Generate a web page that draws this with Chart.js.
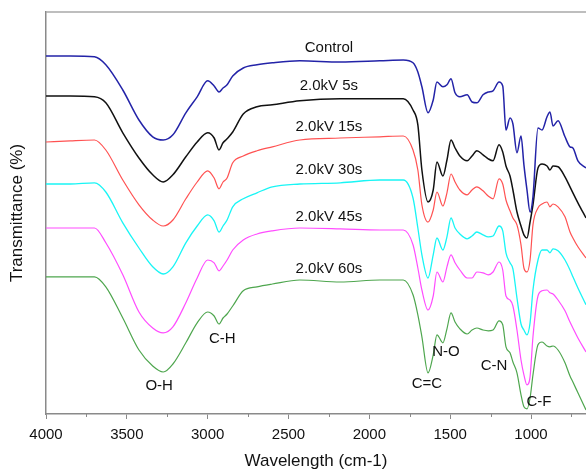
<!DOCTYPE html>
<html>
<head>
<meta charset="utf-8">
<script src="https://cdn.jsdelivr.net/npm/chart.js@4"></script>
<style>
    body { margin: 0; background: #fff; }
    #chartContainer { width: 586px; height: 474px; }
</style>
</head>
<body>
<div id="chartContainer"><canvas id="ftirChart"></canvas></div>
<script>
// wavenumbers (cm-1) shared by every spectrum
const wavenumbers = [4000, 3850, 3700, 3630, 3525, 3425, 3340, 3275, 3215, 3135, 3065, 3000, 2960, 2930, 2905, 2880, 2845, 2780, 2695, 2600, 2430, 2180, 1935, 1790, 1730, 1700, 1675, 1637, 1605, 1582, 1545, 1520, 1495, 1470, 1440, 1395, 1365, 1335, 1297, 1265, 1235, 1198, 1175, 1155, 1130, 1112, 1087, 1062, 1044, 1025, 1006, 988, 957, 932, 901, 883, 864, 833, 790, 759, 741, 710, 660];

// stacked transmittance, arbitrary offset per spectrum
const control = [89.5, 89.5, 89.3, 87.3, 81, 73.5, 69.3, 68.5, 69.8, 75.3, 79.3, 83.3, 82, 80.5, 81.5, 82.3, 84.5, 86.5, 87.3, 87.8, 88.3, 88, 88.3, 88.5, 87.8, 85.5, 81.8, 75.3, 78.5, 83, 81.8, 82.3, 83.8, 80.3, 79.3, 79.8, 78, 77.8, 79.8, 80.5, 80.8, 83, 82, 71, 74, 72.5, 65.3, 69.5, 62.3, 56, 50.5, 54.3, 71.5, 71, 74.3, 75.5, 72, 73.3, 69.3, 66.8, 66.5, 63.3, 61.5];
const kv5s = [79.5, 79.5, 79.3, 77.8, 70.3, 64, 59.8, 58, 59.8, 64.3, 68, 70.3, 69, 66, 67.8, 68.8, 70.5, 75, 76.8, 77.3, 78.3, 78.8, 78.8, 78.8, 76, 72.3, 61, 53, 56, 63, 59.5, 63.5, 68.5, 66.5, 64.5, 63.3, 64.5, 65.8, 64.8, 63.8, 63.3, 67.3, 65.5, 62, 59.5, 56, 50.5, 47, 44.8, 44, 48, 52.3, 61.5, 62.5, 62, 61, 62, 61.8, 59.3, 56.8, 55.3, 52.8, 49];
const kv15s = [68, 68.3, 68.5, 66, 58.5, 52.3, 48.5, 47, 48.5, 53.8, 58, 60.8, 59, 56.3, 58, 59, 62.8, 64.5, 65.8, 66.8, 68.5, 69, 69.3, 69.5, 66, 61, 52.3, 48, 51, 55.5, 52, 55.3, 60, 58, 56, 54.8, 56, 56.8, 55.8, 54.5, 53.8, 58.8, 57.5, 53.5, 50.8, 49, 47.3, 42.3, 36.5, 35.5, 38.5, 47.3, 51.5, 52.5, 53, 51.8, 52.5, 51.8, 49.3, 45.5, 44, 41.8, 39];
const kv30s = [57.5, 57.5, 57.8, 55.5, 47.8, 41.5, 36.8, 35, 36.8, 42.8, 47, 49.8, 48.3, 45.5, 47, 48.5, 51.8, 53.8, 55.3, 56.8, 57.5, 57.8, 58.5, 58.5, 54, 46.5, 39.8, 34, 39.8, 44, 41, 44.3, 49, 46.5, 45, 43.8, 44.5, 45.5, 44.8, 44.3, 44.5, 47, 45.8, 40.3, 37.8, 36.3, 29, 22.5, 21, 19.8, 22.8, 31, 38.5, 41, 41, 40.3, 41.3, 40.8, 38.5, 36, 34.3, 31.5, 27.3];
const kv45s = [46.5, 46.5, 46.5, 42.8, 34.8, 25.5, 21.5, 20.3, 21.8, 27.8, 34, 38.5, 37.8, 35.8, 37, 38.5, 41, 43.5, 45, 45.8, 46.5, 46.3, 46, 46, 42.3, 36.5, 31, 26, 29.5, 35.5, 33, 36.8, 39.8, 37.8, 36, 34, 34, 35.5, 35.3, 34.8, 35.5, 38, 36, 29.5, 28.5, 27, 21, 13.5, 9.8, 7.3, 9.3, 19.3, 29.5, 30.8, 31, 30.3, 30, 28.5, 25.8, 23, 21.5, 19, 15.5];
const kv60s = [34.3, 34.3, 34.3, 31.8, 24, 16, 12, 10.5, 12.5, 17.8, 22.8, 25.5, 24.5, 22.5, 24, 25, 27, 30.8, 31.8, 32.5, 33.5, 33, 33.5, 33.5, 29.8, 24.8, 19.3, 10.3, 14.8, 19.8, 17.8, 21.3, 25.3, 23, 21.3, 20, 21, 21.5, 21, 20.8, 21, 23.3, 22.3, 16.8, 15.3, 13, 10.3, 4.8, 1.8, 1.3, 4, 9.8, 17.3, 18, 17, 16.8, 17, 16, 12.8, 9.5, 8, 5.3, 1];

const seriesNames = ['Control', '2.0kV 5s', '2.0kV 15s', '2.0kV 30s', '2.0kV 45s', '2.0kV 60s'];
const seriesData = [control, kv5s, kv15s, kv30s, kv45s, kv60s];
const seriesColors = ['#2323a8', '#111111', '#ff5252', '#19f5f5', '#ff4cff', '#4ea64e'];
const seriesWidths = [1.5, 1.5, 1.2, 1.3, 1.2, 1.2];

// label anchors in data units (wavenumber, transmittance)
const seriesLabelAt = [[2250, 91.5], [2250, 82], [2250, 71.8], [2250, 61], [2250, 49.3], [2250, 36.3]];
const bandNames = ['O-H', 'C-H', 'C=C', 'N-O', 'C-N', 'C-F'];
const bandLabelAt = [[3300, 7], [2910, 18.8], [1644, 7.5], [1526, 15.5], [1229, 12], [951, 3]];

const xTickMajor = [4000, 3500, 3000, 2500, 2000, 1500, 1000];
const xTickMinor = [3750, 3250, 2750, 2250, 1750, 1250, 750];
const fontFamily = '"Liberation Sans", Arial, sans-serif';
const axisGray = '#8a8a8a';

const ctx = document.getElementById('ftirChart').getContext('2d');

const textLabels = {
    id: 'textLabels',
    afterDatasetsDraw(chart) {
        const c = chart.ctx, x = chart.scales.x, y = chart.scales.y;
        c.save();
        c.fillStyle = '#111';
        c.textAlign = 'center';
        c.textBaseline = 'middle';
        c.font = '15px ' + fontFamily;
        seriesNames.forEach((name, i) => {
            c.fillText(name, x.getPixelForValue(seriesLabelAt[i][0]), y.getPixelForValue(seriesLabelAt[i][1]));
        });
        bandNames.forEach((name, i) => {
            c.fillText(name, x.getPixelForValue(bandLabelAt[i][0]), y.getPixelForValue(bandLabelAt[i][1]));
        });
        c.restore();
    }
};

const frameExtras = {
    id: 'frameExtras',
    afterDraw(chart) {
        const c = chart.ctx, area = chart.chartArea, x = chart.scales.x;
        c.save();
        c.strokeStyle = '#a8a8a8';
        c.lineWidth = 1.5;
        c.beginPath();
        c.moveTo(area.left, area.top);
        c.lineTo(area.right, area.top);
        c.stroke();
        // minor ticks
        c.strokeStyle = axisGray;
        c.lineWidth = 1;
        xTickMinor.forEach(v => {
            const px = Math.round(x.getPixelForValue(v)) + 0.5;
            c.beginPath();
            c.moveTo(px, area.bottom);
            c.lineTo(px, area.bottom + 3);
            c.stroke();
        });
        c.restore();
    }
};

new Chart(ctx, {
    type: 'line',
    data: {
        datasets: seriesData.map((vals, i) => ({
            label: seriesNames[i],
            data: vals.map((v, j) => ({ x: wavenumbers[j], y: v })),
            borderColor: seriesColors[i],
            borderWidth: seriesWidths[i],
            pointRadius: 0,
            fill: false,
            cubicInterpolationMode: 'monotone'
        }))
    },
    options: {
        responsive: true,
        maintainAspectRatio: false,
        animation: false,
        layout: { padding: { top: 12, right: 0, left: 0, bottom: 0 } },
        plugins: {
            legend: { display: false },
            tooltip: { enabled: false }
        },
        scales: {
            x: {
                type: 'linear',
                reverse: true,
                min: 660,
                max: 4000,
                afterFit: scale => { scale.height = 60; },
                afterBuildTicks: scale => { scale.ticks = xTickMajor.map(v => ({ value: v })); },
                grid: {
                    drawOnChartArea: false,
                    drawTicks: true,
                    tickLength: 5,
                    color: axisGray,
                    lineWidth: 1
                },
                border: { display: true, color: axisGray, width: 1.5 },
                ticks: {
                    autoSkip: false,
                    maxRotation: 0,
                    padding: 7,
                    color: '#111',
                    font: { family: fontFamily, size: 15 },
                    callback: v => String(v)
                },
                title: {
                    display: true,
                    text: 'Wavelength (cm-1)',
                    color: '#111',
                    padding: { top: 0, bottom: 2 },
                    font: { family: fontFamily, size: 17 }
                }
            },
            y: {
                min: 0,
                max: 100.5,
                afterFit: scale => { scale.width = 46; },
                grid: { display: false },
                border: { display: true, color: axisGray, width: 1.5 },
                ticks: { display: false },
                title: {
                    display: true,
                    text: 'Transmittance (%)',
                    color: '#111',
                    padding: { top: 7, bottom: 0 },
                    font: { family: fontFamily, size: 17 }
                }
            }
        }
    },
    plugins: [textLabels, frameExtras]
});
</script>
</body>
</html>
